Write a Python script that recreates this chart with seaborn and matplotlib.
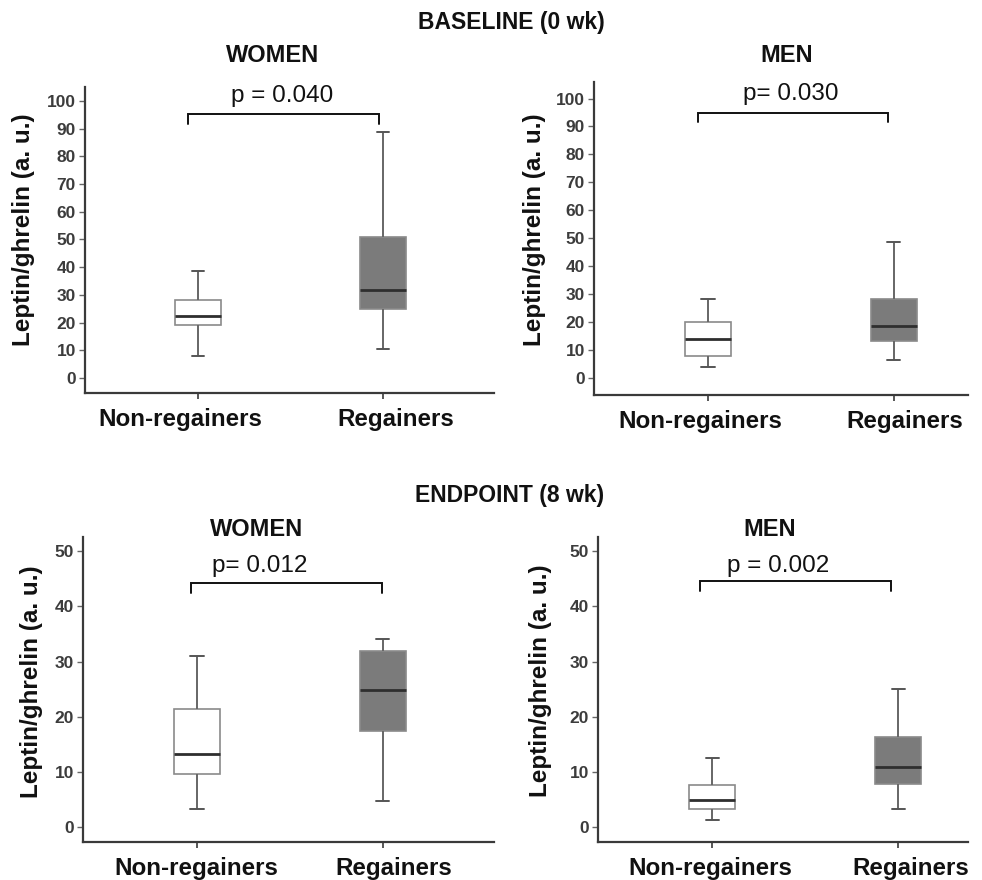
import numpy as np
import pandas as pd
import matplotlib
matplotlib.use("Agg")
import matplotlib.pyplot as plt
import matplotlib.transforms as mtransforms
import seaborn as sns

GROUPS = ["Non-regainers", "Regainers"]

# box summaries: [whisker low, Q1, median, Q3, whisker high]
WOMEN_BASE_NON = [8.0, 19.0, 22.5, 28.2, 38.5]
WOMEN_BASE_REG = [10.5, 24.8, 31.8, 51.0, 88.7]
MEN_BASE_NON = [3.9, 8.1, 14.0, 20.2, 28.3]
MEN_BASE_REG = [6.5, 13.3, 18.8, 28.2, 48.8]
WOMEN_END_NON = [3.3, 9.6, 13.2, 21.5, 31.0]
WOMEN_END_REG = [4.7, 17.5, 24.9, 32.0, 34.1]
MEN_END_NON = [1.3, 3.3, 5.0, 7.7, 12.5]
MEN_END_REG = [3.2, 7.9, 10.9, 16.3, 25.1]

P_LABELS = ["p = 0.040", "p= 0.030", "p= 0.012", "p = 0.002"]
PANEL_TITLES = ["WOMEN", "MEN", "WOMEN", "MEN"]
ROW_TITLES = ["BASELINE (0 wk)", "ENDPOINT (8 wk)"]
Y_LABEL = "Leptin/ghrelin (a. u.)"
Y_TICKS_BASE = list(range(0, 101, 10))
Y_TICKS_END = list(range(0, 51, 10))

W, H = 982, 880

sns.set_style("ticks")
plt.rcParams["font.family"] = ["Liberation Sans", "DejaVu Sans"]

fig = plt.figure(figsize=(W / 100, H / 100), dpi=100)


def px_rect(left, top, right, bottom):
    return [left / W, 1 - bottom / H, (right - left) / W, (bottom - top) / H]


def px_text(x, y, s, **kw):
    fig.text(x / W, 1 - y / H, s, ha="center", va="center", **kw)


# layout per panel: axes box in pixels, limits, bracket, p-label position, label shifts
panels = [
    dict(non=WOMEN_BASE_NON, reg=WOMEN_BASE_REG, rect=(85, 87, 494, 393),
         xlim=(-0.611, 1.6), ylim=(-5.4, 105), yticks=Y_TICKS_BASE,
         br=(-0.054, 0.978, 95.2, 91.7), ptxt=(0.454, 99.7), shift=(-18, 13)),
    dict(non=MEN_BASE_NON, reg=MEN_BASE_REG, rect=(594, 82, 968, 395),
         xlim=(-0.613, 1.398), ylim=(-6.0, 105.9), yticks=Y_TICKS_BASE,
         br=(-0.054, 0.968, 94.9, 91.6), ptxt=(0.446, 99.4), shift=(-8, 11)),
    dict(non=WOMEN_END_NON, reg=WOMEN_END_REG, rect=(83, 537, 494, 842),
         xlim=(-0.613, 1.597), ylim=(-2.7, 52.6), yticks=Y_TICKS_END,
         br=(-0.032, 0.995, 44.3, 42.5), ptxt=(0.339, 46.3), shift=(-1, 11)),
    dict(non=MEN_END_NON, reg=MEN_END_REG, rect=(598, 537, 968, 842),
         xlim=(-0.613, 1.376), ylim=(-2.7, 52.6), yticks=Y_TICKS_END,
         br=(-0.065, 0.962, 44.6, 42.8), ptxt=(0.355, 46.3), shift=(-2, 13)),
]

for i, p in enumerate(panels):
    ax = fig.add_axes(px_rect(*p["rect"]))
    df = pd.DataFrame({
        "group": [GROUPS[0]] * len(p["non"]) + [GROUPS[1]] * len(p["reg"]),
        "value": p["non"] + p["reg"],
    })
    sns.boxplot(data=df, x="group", y="value", hue="group", order=GROUPS, hue_order=GROUPS,
                palette={GROUPS[0]: "white", GROUPS[1]: "#7b7b7b"}, saturation=1,
                width=0.25, whis=(0, 100), linecolor="#8a8a8a", linewidth=1.2,
                legend=False, ax=ax,
                medianprops=dict(color="#2e2e2e", linewidth=2.0),
                whiskerprops=dict(color="#666666", linewidth=1.4),
                capprops=dict(color="#555555", linewidth=1.4))

    # short caps like the original
    for ln in ax.lines:
        xd, yd = np.asarray(ln.get_xdata(), float), np.asarray(ln.get_ydata(), float)
        if len(xd) == 2 and yd[0] == yd[1] and 0 < abs(xd[1] - xd[0]) < 0.2:
            c = xd.mean()
            ln.set_xdata([c - 0.035, c + 0.035])

    ax.set_xlim(*p["xlim"])
    ax.set_ylim(*p["ylim"])
    ax.set_yticks(p["yticks"])
    ax.set_xlabel("")
    ax.set_ylabel("")
    sns.despine(ax=ax)
    for side in ["left", "bottom"]:
        ax.spines[side].set_color("#3a3a3a")
        ax.spines[side].set_linewidth(1.6)
    ax.tick_params(axis="y", length=4.5, width=1, color="#666666", pad=2,
                   labelsize=12.5, labelcolor="#3c3c3c")
    ax.tick_params(axis="x", length=4, width=1.2, color="#3a3a3a", pad=6.5,
                   labelsize=17.4, labelcolor="#111111")
    for lab in ax.get_yticklabels():
        lab.set_fontweight("bold")
    for lab, dx in zip(ax.get_xticklabels(), p["shift"]):
        lab.set_fontweight("bold")
        lab.set_transform(lab.get_transform()
                          + mtransforms.ScaledTranslation(dx / 100, 0, fig.dpi_scale_trans))

    x0, x1, yb, yl = p["br"]
    ax.plot([x0, x0, x1, x1], [yl, yb, yb, yl], color="#111111", lw=1.4,
            solid_joinstyle="miter", clip_on=False)
    ax.text(p["ptxt"][0], p["ptxt"][1], P_LABELS[i], ha="center", va="baseline",
            fontsize=17.5, color="#111111")

# titles and y labels
px_text(511, 23, ROW_TITLES[0], fontsize=16.5, fontweight="bold", color="#111111")
px_text(510, 495, ROW_TITLES[1], fontsize=16.5, fontweight="bold", color="#111111")
for (x, y), t in zip([(273, 55), (787, 55), (257, 529), (770, 529)], PANEL_TITLES):
    px_text(x, y, t, fontsize=17, fontweight="bold", color="#111111")
for x, y in [(24, 230), (535, 230), (32, 682), (540, 681)]:
    px_text(x, y, Y_LABEL, fontsize=17.5, fontweight="bold", rotation=90, color="#111111")

fig.savefig("out.png", dpi=100)
